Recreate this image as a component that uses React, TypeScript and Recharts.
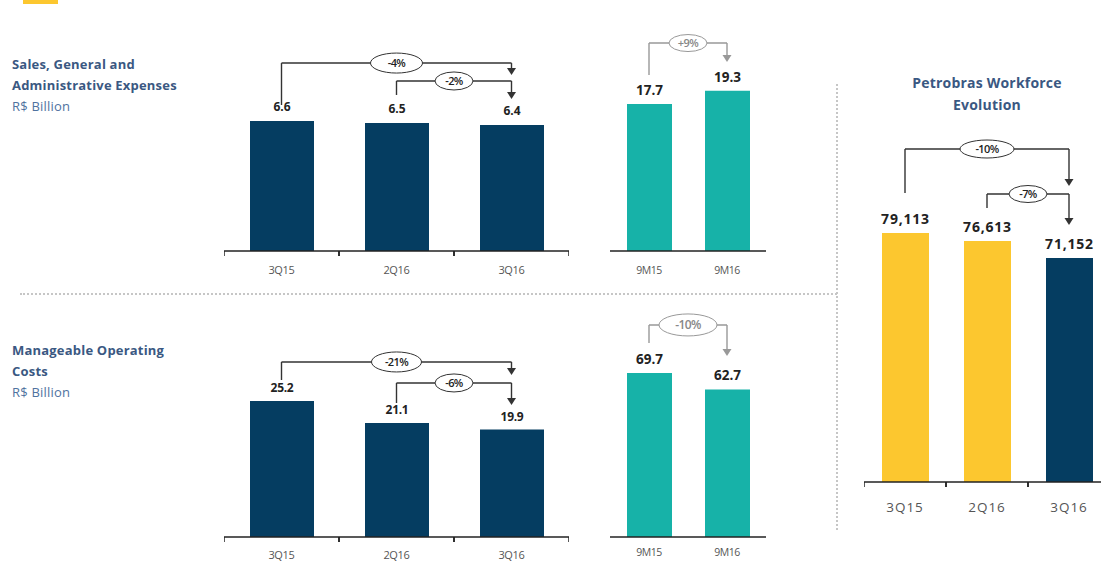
import React from 'react';
import { BarChart, Bar, XAxis, YAxis, Cell, LabelList, ReferenceLine } from 'recharts';

const NAVY = '#053d61';
const TEAL = '#17b2a8';
const YELLOW = '#fcc72f';
const TITLE = '#3a5882';
const SUB = '#4f72a0';
const FONT = '"Open Sans", "DejaVu Sans", sans-serif';

// data
const quarters = ['3Q15', '2Q16', '3Q16'];
const nineMonths = ['9M15', '9M16'];
const sgaQuarterValues = [6.6, 6.5, 6.4];
const sgaNineMonthValues = [17.7, 19.3];
const opexQuarterValues = [25.2, 21.1, 19.9];
const opexNineMonthValues = [69.7, 62.7];
const workforceValues = [79113, 76613, 71152];

const sgaQuarterChanges = ['-4%', '-2%'];
const sgaNineMonthChange = '+9%';
const opexQuarterChanges = ['-21%', '-6%'];
const opexNineMonthChange = '-10%';
const workforceChanges = ['-10%', '-7%'];

type Bracket = {
  from: string;
  to: string;
  label: string;
  start: number; // where the left stem begins (data units)
  level: number; // height of the horizontal part
  end: number; // arrow tip
  rx: number;
  ry: number;
};

const stem = (color: string) => (s: any) => (
  <line x1={s.x1} y1={s.y1} x2={s.x2} y2={s.y2} stroke={color} strokeWidth={1.4} />
);

const arrowStem = (color: string) => (s: any) => (
  <g>
    <line x1={s.x1} y1={s.y1} x2={s.x2} y2={s.y2 - 5} stroke={color} strokeWidth={1.4} />
    <path d={`M${s.x2 - 4.5},${s.y2 - 7} L${s.x2 + 4.5},${s.y2 - 7} L${s.x2},${s.y2} Z`} fill={color} />
  </g>
);

const bridge = (color: string, textColor: string, b: Bracket, fs: number) => (s: any) => {
  const cx = (s.x1 + s.x2) / 2;
  return (
    <g>
      <line x1={s.x1} y1={s.y1} x2={s.x2} y2={s.y2} stroke={color} strokeWidth={1.4} />
      <ellipse cx={cx} cy={s.y1} rx={b.rx} ry={b.ry} fill="#fff" stroke={color} strokeWidth={1} />
      <text x={cx} y={s.y1} dy="0.36em" textAnchor="middle" fontSize={fs} fontFamily={FONT} fill={textColor} fontWeight={600} letterSpacing={-0.6}>
        {b.label}
      </text>
    </g>
  );
};

const AxisTick = (props: any) => {
  const { x, y, payload, bw, marks, fontSize, dy, spacing } = props;
  return (
    <g>
      {marks && <line x1={x - bw / 2} x2={x - bw / 2} y1={y} y2={y + 5} stroke="#222" strokeWidth={1.5} />}
      {marks && <line x1={x + bw / 2} x2={x + bw / 2} y1={y} y2={y + 5} stroke="#222" strokeWidth={1.5} />}
      <text x={x} y={y + dy} textAnchor="middle" fontSize={fontSize} fontFamily={FONT} fill="#555" letterSpacing={spacing}>
        {payload.value}
      </text>
    </g>
  );
};

type PanelProps = {
  left: number;
  top: number;
  width: number;
  baseline: number;
  max: number;
  categories: string[];
  values: number[];
  colors: string[];
  barSize: number;
  brackets: Bracket[];
  bracketColor: string;
  bracketText: string;
  ellipseFont: number;
  valueFont: number;
  valueGap: number;
  valueSpacing: number;
  format: (v: number) => string;
  tickFont: number;
  tickDy: number;
  tickSpacing: number;
  marks: boolean;
};

function Panel(p: PanelProps) {
  const data = p.categories.map((name, i) => ({ name, value: p.values[i] }));
  const axisH = 40;
  const height = p.baseline - p.top + axisH;
  const bw = p.width / p.categories.length;

  return (
    <div style={{ position: 'absolute', left: p.left, top: p.top }}>
      <BarChart width={p.width} height={height} data={data} margin={{ top: 0, right: 0, bottom: 0, left: 0 }}>
        <XAxis
          dataKey="name"
          height={axisH}
          interval={0}
          tickLine={false}
          tickSize={0}
          tickMargin={0}
          axisLine={{ stroke: '#222', strokeWidth: 1.5 }}
          tick={<AxisTick bw={bw} marks={p.marks} fontSize={p.tickFont} dy={p.tickDy} spacing={p.tickSpacing} />}
        />
        <YAxis hide domain={[0, p.max]} allowDataOverflow />
        <Bar dataKey="value" barSize={p.barSize} isAnimationActive={false}>
          {data.map((d, i) => (
            <Cell key={d.name} fill={p.colors[i % p.colors.length]} />
          ))}
          <LabelList
            dataKey="value"
            content={(lp: any) => {
              const vb = lp.viewBox ?? lp;
              return (
                <text
                  x={vb.x + vb.width / 2}
                  y={vb.y - p.valueGap}
                  textAnchor="middle"
                  fontSize={p.valueFont}
                  fontWeight={700}
                  fontFamily={FONT}
                  fill="#222"
                  letterSpacing={p.valueSpacing}
                >
                  {p.format(Number(lp.value))}
                </text>
              );
            }}
          />
        </Bar>
        {p.brackets.flatMap((b, i) => [
          <ReferenceLine
            key={`s${i}`}
            ifOverflow="visible"
            segment={[{ x: b.from, y: b.start }, { x: b.from, y: b.level }]}
            shape={stem(p.bracketColor)}
          />,
          <ReferenceLine
            key={`a${i}`}
            ifOverflow="visible"
            segment={[{ x: b.to, y: b.level }, { x: b.to, y: b.end }]}
            shape={arrowStem(p.bracketColor)}
          />,
          <ReferenceLine
            key={`b${i}`}
            ifOverflow="visible"
            segment={[{ x: b.from, y: b.level }, { x: b.to, y: b.level }]}
            shape={bridge(p.bracketColor, p.bracketText, b, p.ellipseFont)}
          />,
        ])}
      </BarChart>
    </div>
  );
}

const oneDecimal = (v: number) => v.toFixed(1);
const thousands = (v: number) => v.toLocaleString('en-US');

const titleStyle: React.CSSProperties = {
  position: 'absolute',
  fontFamily: FONT,
  fontSize: 13,
  lineHeight: '21px',
  fontWeight: 700,
  color: TITLE,
  letterSpacing: 0.2,
};

export default function App() {
  return (
    <div
      style={{
        position: 'absolute',
        left: 0,
        top: 0,
        width: 1101,
        height: 566,
        overflow: 'hidden',
        background: '#fff',
        fontFamily: FONT,
      }}
    >
      <div style={{ position: 'absolute', left: 23, top: 0, width: 35, height: 4, background: YELLOW }} />

      <div style={{ ...titleStyle, left: 12, top: 54 }}>
        Sales, General and
        <br />
        Administrative Expenses
        <br />
        <span style={{ fontWeight: 400, color: SUB }}>R$ Billion</span>
      </div>

      <div style={{ ...titleStyle, left: 12, top: 340 }}>
        Manageable Operating
        <br />
        Costs
        <br />
        <span style={{ fontWeight: 400, color: SUB }}>R$ Billion</span>
      </div>

      <div style={{ ...titleStyle, left: 887, width: 200, top: 72, fontSize: 14, lineHeight: '22px', textAlign: 'center' }}>
        Petrobras Workforce
        <br />
        Evolution
      </div>

      {/* dotted separators */}
      <div style={{ position: 'absolute', left: 20, top: 293, width: 817, borderTop: '2px dotted #c6c6c6' }} />
      <div style={{ position: 'absolute', left: 836, top: 84, height: 446, borderLeft: '2px dotted #c6c6c6' }} />

      <Panel
        left={224}
        top={40}
        width={345}
        baseline={251}
        max={10.71}
        categories={quarters}
        values={sgaQuarterValues}
        colors={[NAVY]}
        barSize={64}
        brackets={[
          { from: '3Q15', to: '3Q16', label: sgaQuarterChanges[0], start: 7.41, level: 9.54, end: 8.93, rx: 26, ry: 10 },
          { from: '2Q16', to: '3Q16', label: sgaQuarterChanges[1], start: 7.92, level: 8.63, end: 7.72, rx: 19, ry: 9 },
        ]}
        bracketColor="#333"
        bracketText="#222"
        ellipseFont={11}
        valueFont={12}
        valueGap={10}
        valueSpacing={0}
        format={oneDecimal}
        tickFont={11}
        tickDy={23}
        tickSpacing={-0.3}
        marks
      />

      <Panel
        left={610}
        top={30}
        width={156}
        baseline={251}
        max={26.6}
        categories={nineMonths}
        values={sgaNineMonthValues}
        colors={[TEAL]}
        barSize={45}
        brackets={[
          { from: '9M15', to: '9M16', label: sgaNineMonthChange, start: 21.18, level: 25.03, end: 22.74, rx: 19, ry: 8.5 },
        ]}
        bracketColor="#999"
        bracketText="#888"
        ellipseFont={11}
        valueFont={13.5}
        valueGap={9}
        valueSpacing={0}
        format={oneDecimal}
        tickFont={10.5}
        tickDy={23}
        tickSpacing={-0.5}
        marks={false}
      />

      <Panel
        left={224}
        top={340}
        width={345}
        baseline={537}
        max={36.5}
        categories={quarters}
        values={opexQuarterValues}
        colors={[NAVY]}
        barSize={64}
        brackets={[
          { from: '3Q15', to: '3Q16', label: opexQuarterChanges[0], start: 29.09, level: 32.43, end: 30.02, rx: 25, ry: 10 },
          { from: '2Q16', to: '3Q16', label: opexQuarterChanges[1], start: 24.83, level: 28.54, end: 24.46, rx: 19, ry: 9 },
        ]}
        bracketColor="#333"
        bracketText="#222"
        ellipseFont={11}
        valueFont={12}
        valueGap={9}
        valueSpacing={-0.3}
        format={oneDecimal}
        tickFont={11}
        tickDy={22}
        tickSpacing={-0.3}
        marks
      />

      <Panel
        left={610}
        top={300}
        width={156}
        baseline={537}
        max={100.7}
        categories={nineMonths}
        values={opexNineMonthValues}
        colors={[TEAL]}
        barSize={45}
        brackets={[
          { from: '9M15', to: '9M16', label: opexNineMonthChange, start: 82.4, level: 90.1, end: 76.9, rx: 29, ry: 11 },
        ]}
        bracketColor="#999"
        bracketText="#888"
        ellipseFont={12}
        valueFont={13.5}
        valueGap={9}
        valueSpacing={0}
        format={oneDecimal}
        tickFont={10.5}
        tickDy={19}
        tickSpacing={-0.5}
        marks={false}
      />

      <Panel
        left={864}
        top={130}
        width={246}
        baseline={482}
        max={111853}
        categories={quarters}
        values={workforceValues}
        colors={[YELLOW, YELLOW, NAVY]}
        barSize={47}
        brackets={[
          { from: '3Q15', to: '3Q16', label: workforceChanges[0], start: 91833, level: 105815, end: 94058, rx: 27, ry: 9 },
          { from: '2Q16', to: '3Q16', label: workforceChanges[1], start: 87067, level: 91516, end: 81665, rx: 19, ry: 8.5 },
        ]}
        bracketColor="#333"
        bracketText="#222"
        ellipseFont={11}
        valueFont={14}
        valueGap={9}
        valueSpacing={0.8}
        format={thousands}
        tickFont={13.5}
        tickDy={30}
        tickSpacing={1}
        marks
      />
    </div>
  );
}
